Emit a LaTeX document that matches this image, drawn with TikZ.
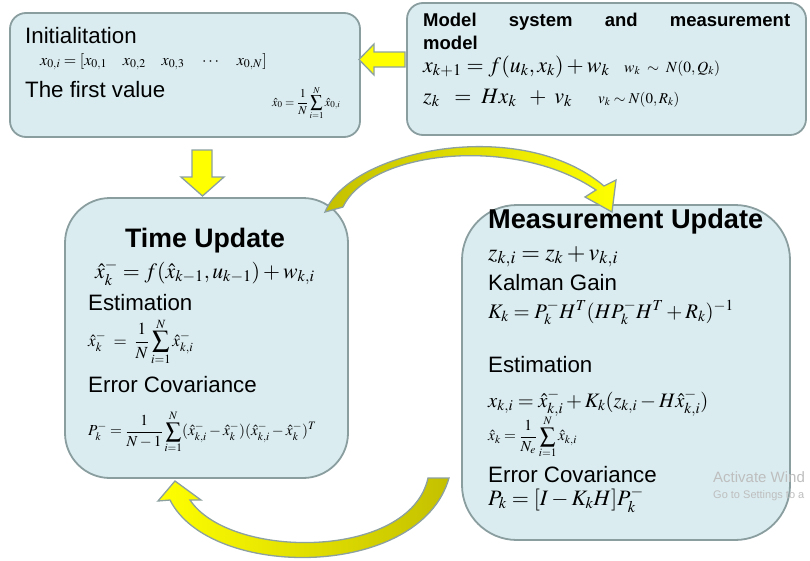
\documentclass[tikz,border=0pt]{standalone}
\usepackage{mathptmx}
\usepackage[no-math]{fontspec}
\setmainfont{Liberation Sans}
\definecolor{boxfill}{RGB}{218,236,240}
\definecolor{boxline}{RGB}{138,158,160}
\definecolor{arrline}{RGB}{140,160,160}
\definecolor{arryel}{RGB}{255,255,0}
\definecolor{arrolv}{RGB}{196,192,0}
\definecolor{wmark}{RGB}{190,190,190}
\newcommand{\sprel}[1]{\mathrel{\;#1\;}}
\newcommand{\spbin}[1]{\mathbin{\;#1\;}}
\begin{document}
\begin{tikzpicture}[x=1pt,y=-1pt,
  box/.style={draw=boxline, line width=1.8pt, fill=boxfill, rectangle, inner sep=0pt},
  lbl/.style={anchor=base west, inner sep=0pt, font=\fontsize{22.3}{24}\selectfont},
  ttl/.style={anchor=base, inner sep=0pt, font=\fontsize{26.7}{28}\selectfont\bfseries},
  eq/.style={anchor=base west, inner sep=0pt},
  eqc/.style={anchor=west, inner sep=0pt},
  blockarrow/.style={draw=arrline, line width=1.3pt, fill=arryel},
  curvearrow/.style={draw=arrline, line width=1.3pt}]
\useasboundingbox (0,0) rectangle (810,560);
\fill[white] (0,0) rectangle (810,560);

% boxes
\node[box, rounded corners=16pt, minimum width=350pt, minimum height=124pt] (init) at (185,75) {};
\node[box, rounded corners=16pt, minimum width=399pt, minimum height=132pt] (model) at (606.5,69) {};
\node[box, rounded corners=45pt, minimum width=283pt, minimum height=280pt] (time) at (206.5,338) {};
\node[box, rounded corners=55pt, minimum width=328pt, minimum height=335pt] (meas) at (626,372.5) {};

% Initialitation box
\node[lbl] (t1) at (25,43) {Initialitation};
\node[eq, font=\fontsize{16}{18}\selectfont] (e1) at (40,65) {$x_{0,i} = [x_{0,1}\quad x_{0,2}\quad x_{0,3}\quad \cdots\quad x_{0,N}]$};
\node[lbl] (t2) at (25,97) {The first value};
\node[eqc, font=\fontsize{12}{14}\selectfont] (e2) at (272,103) {$\displaystyle \hat{x}_0 = \frac{1}{N}\sum_{i=1}^{N}\hat{x}_{0,i}$};

% Model box
\node[anchor=base west, inner sep=0pt, font=\fontsize{18.5}{20}\selectfont\bfseries] (m1) at (423,26) {\hbox to 367pt{Model\hfil system\hfil and\hfil measurement}};
\node[anchor=base west, inner sep=0pt, font=\fontsize{18.5}{20}\selectfont\bfseries] (m2) at (423,49) {model};
\node[eq, font=\fontsize{22}{24}\selectfont] (m3) at (423,72) {$x_{k+1} = f(u_k,x_k) + w_k$};
\node[eq, font=\fontsize{15.5}{17}\selectfont] (m4) at (624,72) {$w_k \sprel{\sim} N(0,Q_k)$};
\node[eq, font=\fontsize{22}{24}\selectfont] (m5) at (423,103) {$z_k\; \sprel{=} Hx_k\; \spbin{+} v_k$};
\node[eq, font=\fontsize{15}{17}\selectfont] (m6) at (598,103) {$v_k \sim N(0,R_k)$};

% Time update box
\node[ttl] (tu) at (205,247) {Time Update};
\node[eq, font=\fontsize{21.8}{23}\selectfont] (tu1) at (95,278) {$\hat{x}_k^- = f(\hat{x}_{k-1},u_{k-1}) + w_{k,i}$};
\node[lbl] (tu2) at (88,310) {Estimation};
\node[eqc, font=\fontsize{17}{19}\selectfont] (tu3) at (88,342) {$\displaystyle \hat{x}_k^- \sprel{=} \frac{1}{N}\sum_{i=1}^{N}\hat{x}_{k,i}^-$};
\node[lbl] (tu4) at (88,392) {Error Covariance};
\node[eqc, font=\fontsize{15.3}{17}\selectfont] (tu5) at (88,432) {$\displaystyle P_k^- = \frac{1}{N-1}\sum_{i=1}^{N}(\hat{x}_{k,i}^- - \hat{x}_k^-)(\hat{x}_{k,i}^- - \hat{x}_k^-)^T$};

% Measurement update box
\node[anchor=base west, inner sep=0pt, font=\fontsize{27.2}{29}\selectfont\bfseries] (mu) at (488,228) {Measurement Update};
\node[eq, font=\fontsize{24}{26}\selectfont] (mu1) at (488,260) {$z_{k,i} = z_k + v_{k,i}$};
\node[lbl] (mu2) at (488,290) {Kalman Gain};
\node[eq, font=\fontsize{20.7}{22}\selectfont] (mu3) at (488,318) {$K_k = P_k^- H^T(HP_k^- H^T + R_k)^{-1}$};
\node[lbl] (mu4) at (488,372) {Estimation};
\node[eq, font=\fontsize{20.5}{22}\selectfont] (mu5) at (488,407) {$x_{k,i} = \hat{x}_{k,i}^- + K_k(z_{k,i} - H\hat{x}_{k,i}^-)$};
\node[eqc, font=\fontsize{15.3}{17}\selectfont] (mu6) at (488,437) {$\displaystyle \hat{x}_k = \frac{1}{N_e}\sum_{i=1}^{N}\hat{x}_{k,i}$};
\node[lbl] (mu7) at (488,482) {Error Covariance};
\node[eq, font=\fontsize{22}{24}\selectfont] (mu8) at (488,505) {$P_k = [I - K_kH]P_k^-$};

% watermark
\node[anchor=base west, inner sep=0pt, text=wmark, font=\fontsize{15}{16}\selectfont] (w1) at (713,482) {Activate Wind};
\node[anchor=base west, inner sep=0pt, text=wmark, font=\fontsize{11}{12}\selectfont] (w2) at (713,498) {Go to Settings to a};

% straight block arrows
\draw[blockarrow] (405,52) -- (374,52) -- (374,44) -- (359,59.5) -- (374,75) -- (374,67) -- (405,67) -- cycle;
\draw[blockarrow] (192,150) -- (212,150) -- (212,177) -- (224,177) -- (202.5,196) -- (181,177) -- (192,177) -- cycle;

% curved arrow: time update -> measurement update
\draw[curvearrow, left color=arrolv, right color=arryel]
  (325,212) .. controls (350,150) and (520,115) .. (604,186)
  -- (616,180) -- (612,212) -- (585,197) -- (596,190)
  .. controls (515,135) and (370,150) .. (343,207) -- cycle;

% curved arrow: measurement update -> time update
\draw[curvearrow, left color=arryel, right color=arrolv]
  (170,500) .. controls (210,580) and (420,580) .. (449,478)
  -- (428,478) .. controls (410,560) and (230,560) .. (190,500)
  -- (201,500) -- (175,481) -- (158,501) -- cycle;
\end{tikzpicture}
\end{document}
